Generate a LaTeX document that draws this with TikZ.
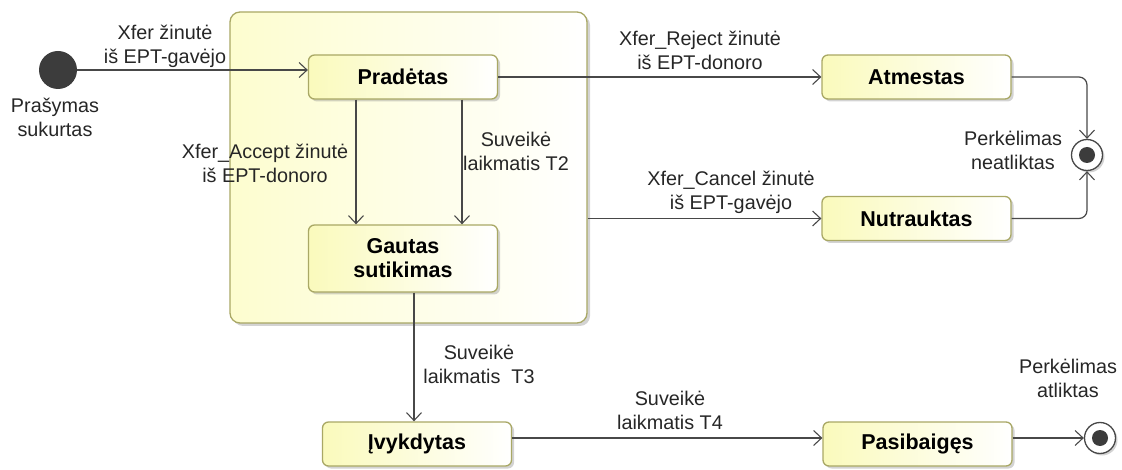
\documentclass[tikz,border=0pt]{standalone}
\usepackage{fontspec}
\setmainfont{Liberation Sans}
\usetikzlibrary{arrows.meta,shadows}
\definecolor{stateborder}{HTML}{A9A865}
\definecolor{statefill}{HTML}{FAFABC}
\definecolor{compfill}{HTML}{FDFDCF}
\definecolor{lineclr}{HTML}{484848}
\definecolor{dotclr}{HTML}{3C3C3C}
\tikzset{
  statebox/.style={draw=stateborder, line width=1.3pt, rounded corners=6pt,
    left color=statefill, right color=white, minimum width=189pt, minimum height=44pt,
    inner sep=0pt, align=center, font=\fontsize{21.5}{24}\selectfont\bfseries,
    drop shadow={shadow xshift=2.5pt, shadow yshift=-2.5pt, opacity=0.35, fill=gray}},
  compbox/.style={draw=stateborder, line width=1.3pt, rounded corners=10pt,
    left color=compfill, right color=white, minimum width=357pt, minimum height=311pt,
    inner sep=0pt,
    drop shadow={shadow xshift=3pt, shadow yshift=-3pt, opacity=0.35, fill=gray}},
  lbl/.style={align=center, inner sep=0pt, font=\fontsize{19.8}{24}\selectfont, text=black!85},
  trans/.style={draw=lineclr, line width=1.2pt, -{Straight Barb[length=8pt,width=15pt,line width=1.1pt]}},
  initdot/.style={circle, fill=dotclr, minimum size=38pt, inner sep=0pt},
  finalring/.style={circle, draw=lineclr, line width=1.3pt, fill=white, minimum size=31pt, inner sep=0pt,
    drop shadow={shadow xshift=2pt, shadow yshift=-2pt, opacity=0.35, fill=gray}},
  finaldot/.style={circle, fill=dotclr, minimum size=16pt, inner sep=0pt}
}
\begin{document}
\begin{tikzpicture}[x=1pt,y=-1pt]
\useasboundingbox (0,0) rectangle (1122,470);
% composite state
\node[compbox] (comp) at (408.5,167.5) {};
% states
\node[statebox] (prad) at (403,77) {Pradėtas};
\node[statebox, minimum height=67pt] (gaut) at (403,258.5) {Gautas\\sutikimas};
\node[statebox] (atm) at (916.5,77) {Atmestas};
\node[statebox] (nut) at (916.5,218.5) {Nutrauktas};
\node[statebox] (ivy) at (417,444) {Įvykdytas};
\node[statebox] (pas) at (917.5,444) {Pasibaigęs};
% pseudo states
\node[initdot] (init) at (58,70) {};
\node[finalring] (end1) at (1087,155) {};
\node[finaldot] (end1dot) at (end1) {};
\node[finalring] (end2) at (1100,438) {};
\node[finaldot] (end2dot) at (end2) {};
% labels of pseudo states
\node[lbl] (linit) at (55,117) {Prašymas\\sukurtas};
\node[lbl] (lend1) at (1013,150) {Perkėlimas\\neatliktas};
\node[lbl] (lend2) at (1068,378) {Perkėlimas\\atliktas};
% transitions
\draw[trans] (init.east) -- (init.east -| prad.west);
\draw[trans] ([xshift=-47pt]prad.south) -- ([xshift=-47pt]gaut.north);
\draw[trans] ([xshift=59pt]prad.south) -- ([xshift=59pt]gaut.north);
\draw[trans] (prad.east) -- (atm.west);
\draw[trans] (comp.east |- nut.west) -- (nut.west);
\draw[trans] ([xshift=11pt]gaut.south) -- ([xshift=11pt]gaut.south |- ivy.north);
\draw[trans] ([yshift=6pt]ivy.east) -- ([yshift=6pt]pas.west);
\draw[trans] ([yshift=6pt]pas.east) -- (end2.west);
\draw[trans, rounded corners=8pt] (atm.east) -| (end1.north);
\draw[trans, rounded corners=8pt] (nut.east) -| (end1.south);
% transition labels
\node[lbl] (t1) at (165,46) {Xfer žinutė\\iš EPT-gavėjo};
\node[lbl] (t2) at (265,163) {Xfer\_Accept žinutė\\iš EPT-donoro};
\node[lbl] (t3) at (516,151) {Suveikė\\laikmatis T2};
\node[lbl] (t4) at (700,50) {Xfer\_Reject žinutė\\iš EPT-donoro};
\node[lbl] (t5) at (731,192) {Xfer\_Cancel žinutė\\iš EPT-gavėjo};
\node[lbl] (t6) at (479,364) {Suveikė\\laikmatis~ T3};
\node[lbl] (t7) at (670,410) {Suveikė\\laikmatis T4};
\end{tikzpicture}
\end{document}
